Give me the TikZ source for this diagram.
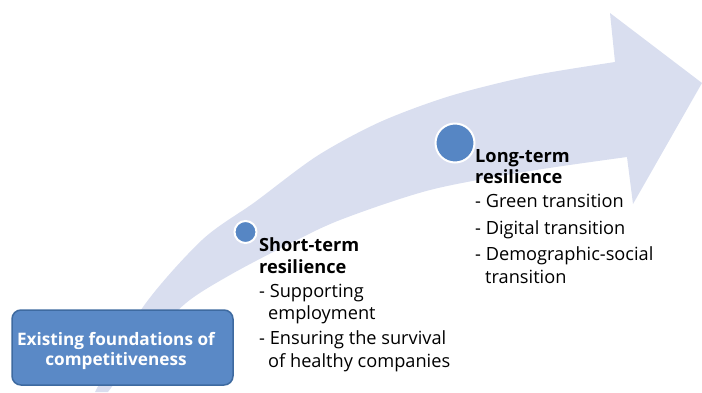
\documentclass[tikz,border=0pt]{standalone}
\usepackage{fontspec}
\setmainfont{Open Sans}
\definecolor{bandfill}{RGB}{217,222,239}
\definecolor{dotfill}{RGB}{86,134,196}
\definecolor{boxfill}{RGB}{90,137,198}
\definecolor{boxline}{RGB}{62,106,160}
\tikzset{
  bodytext/.style={anchor=base west, inner sep=0pt, font=\fontsize{18.2}{22}\selectfont, text=black},
  headtext/.style={bodytext, font=\fontsize{18.2}{22}\selectfont\bfseries},
  milestone/.style={circle, fill=dotfill, draw=white, line width=2pt, inner sep=0pt},
  basebox/.style={rounded corners=9pt, fill=boxfill, draw=boxline, line width=1.5pt},
  boxtext/.style={inner sep=0pt, text=white, font=\fontsize{17.2}{20}\selectfont\bfseries, align=center}
}
\begin{document}
\begin{tikzpicture}[x=1pt, y=-1pt]
  \useasboundingbox (0,0) rectangle (702,392);
  % curved, tapering arrow
  \fill[bandfill]
    plot[smooth] coordinates {(95,392) (143,307) (202,240) (255,202) (317,156) (380,122) (450,96) (530,76) (615,62)}
    -- (610,13) -- (702,83) -- (633,204) -- (627,157)
    -- plot[smooth] coordinates {(627,157) (530,171) (430,190) (340,220) (285,246) (230,275) (186,303) (142,348) (108,392)}
    -- cycle;
  % milestones on the arrow
  \node[milestone, minimum size=22pt] (dotshort) at (245.5,232) {};
  \node[milestone, minimum size=39pt] (dotlong) at (455,143) {};
  % starting point
  \draw[basebox] (12,310) rectangle (233,385);
  \node[boxtext] (base1) at (116,345) [anchor=base] {Existing foundations of};
  \node[boxtext] (base2) at (116,365) [anchor=base] {competitiveness};
  % short-term block
  \node[headtext] (s1) at (259,251) {Short-term};
  \node[headtext] (s2) at (259,273) {resilience};
  \node[bodytext] (s3) at (259,297) {- Supporting};
  \node[bodytext] (s4) at (268,319) {employment};
  \node[bodytext] (s5) at (259,344) {- Ensuring the survival};
  \node[bodytext] (s6) at (268,367) {of healthy companies};
  % long-term block
  \node[headtext] (l1) at (475,162) {Long-term};
  \node[headtext] (l2) at (475,183) {resilience};
  \node[bodytext] (l3) at (475,207) {- Green transition};
  \node[bodytext] (l4) at (475,234) {- Digital transition};
  \node[bodytext] (l5) at (475,260) {- Demographic-social};
  \node[bodytext] (l6) at (485,283) {transition};
\end{tikzpicture}
\end{document}
